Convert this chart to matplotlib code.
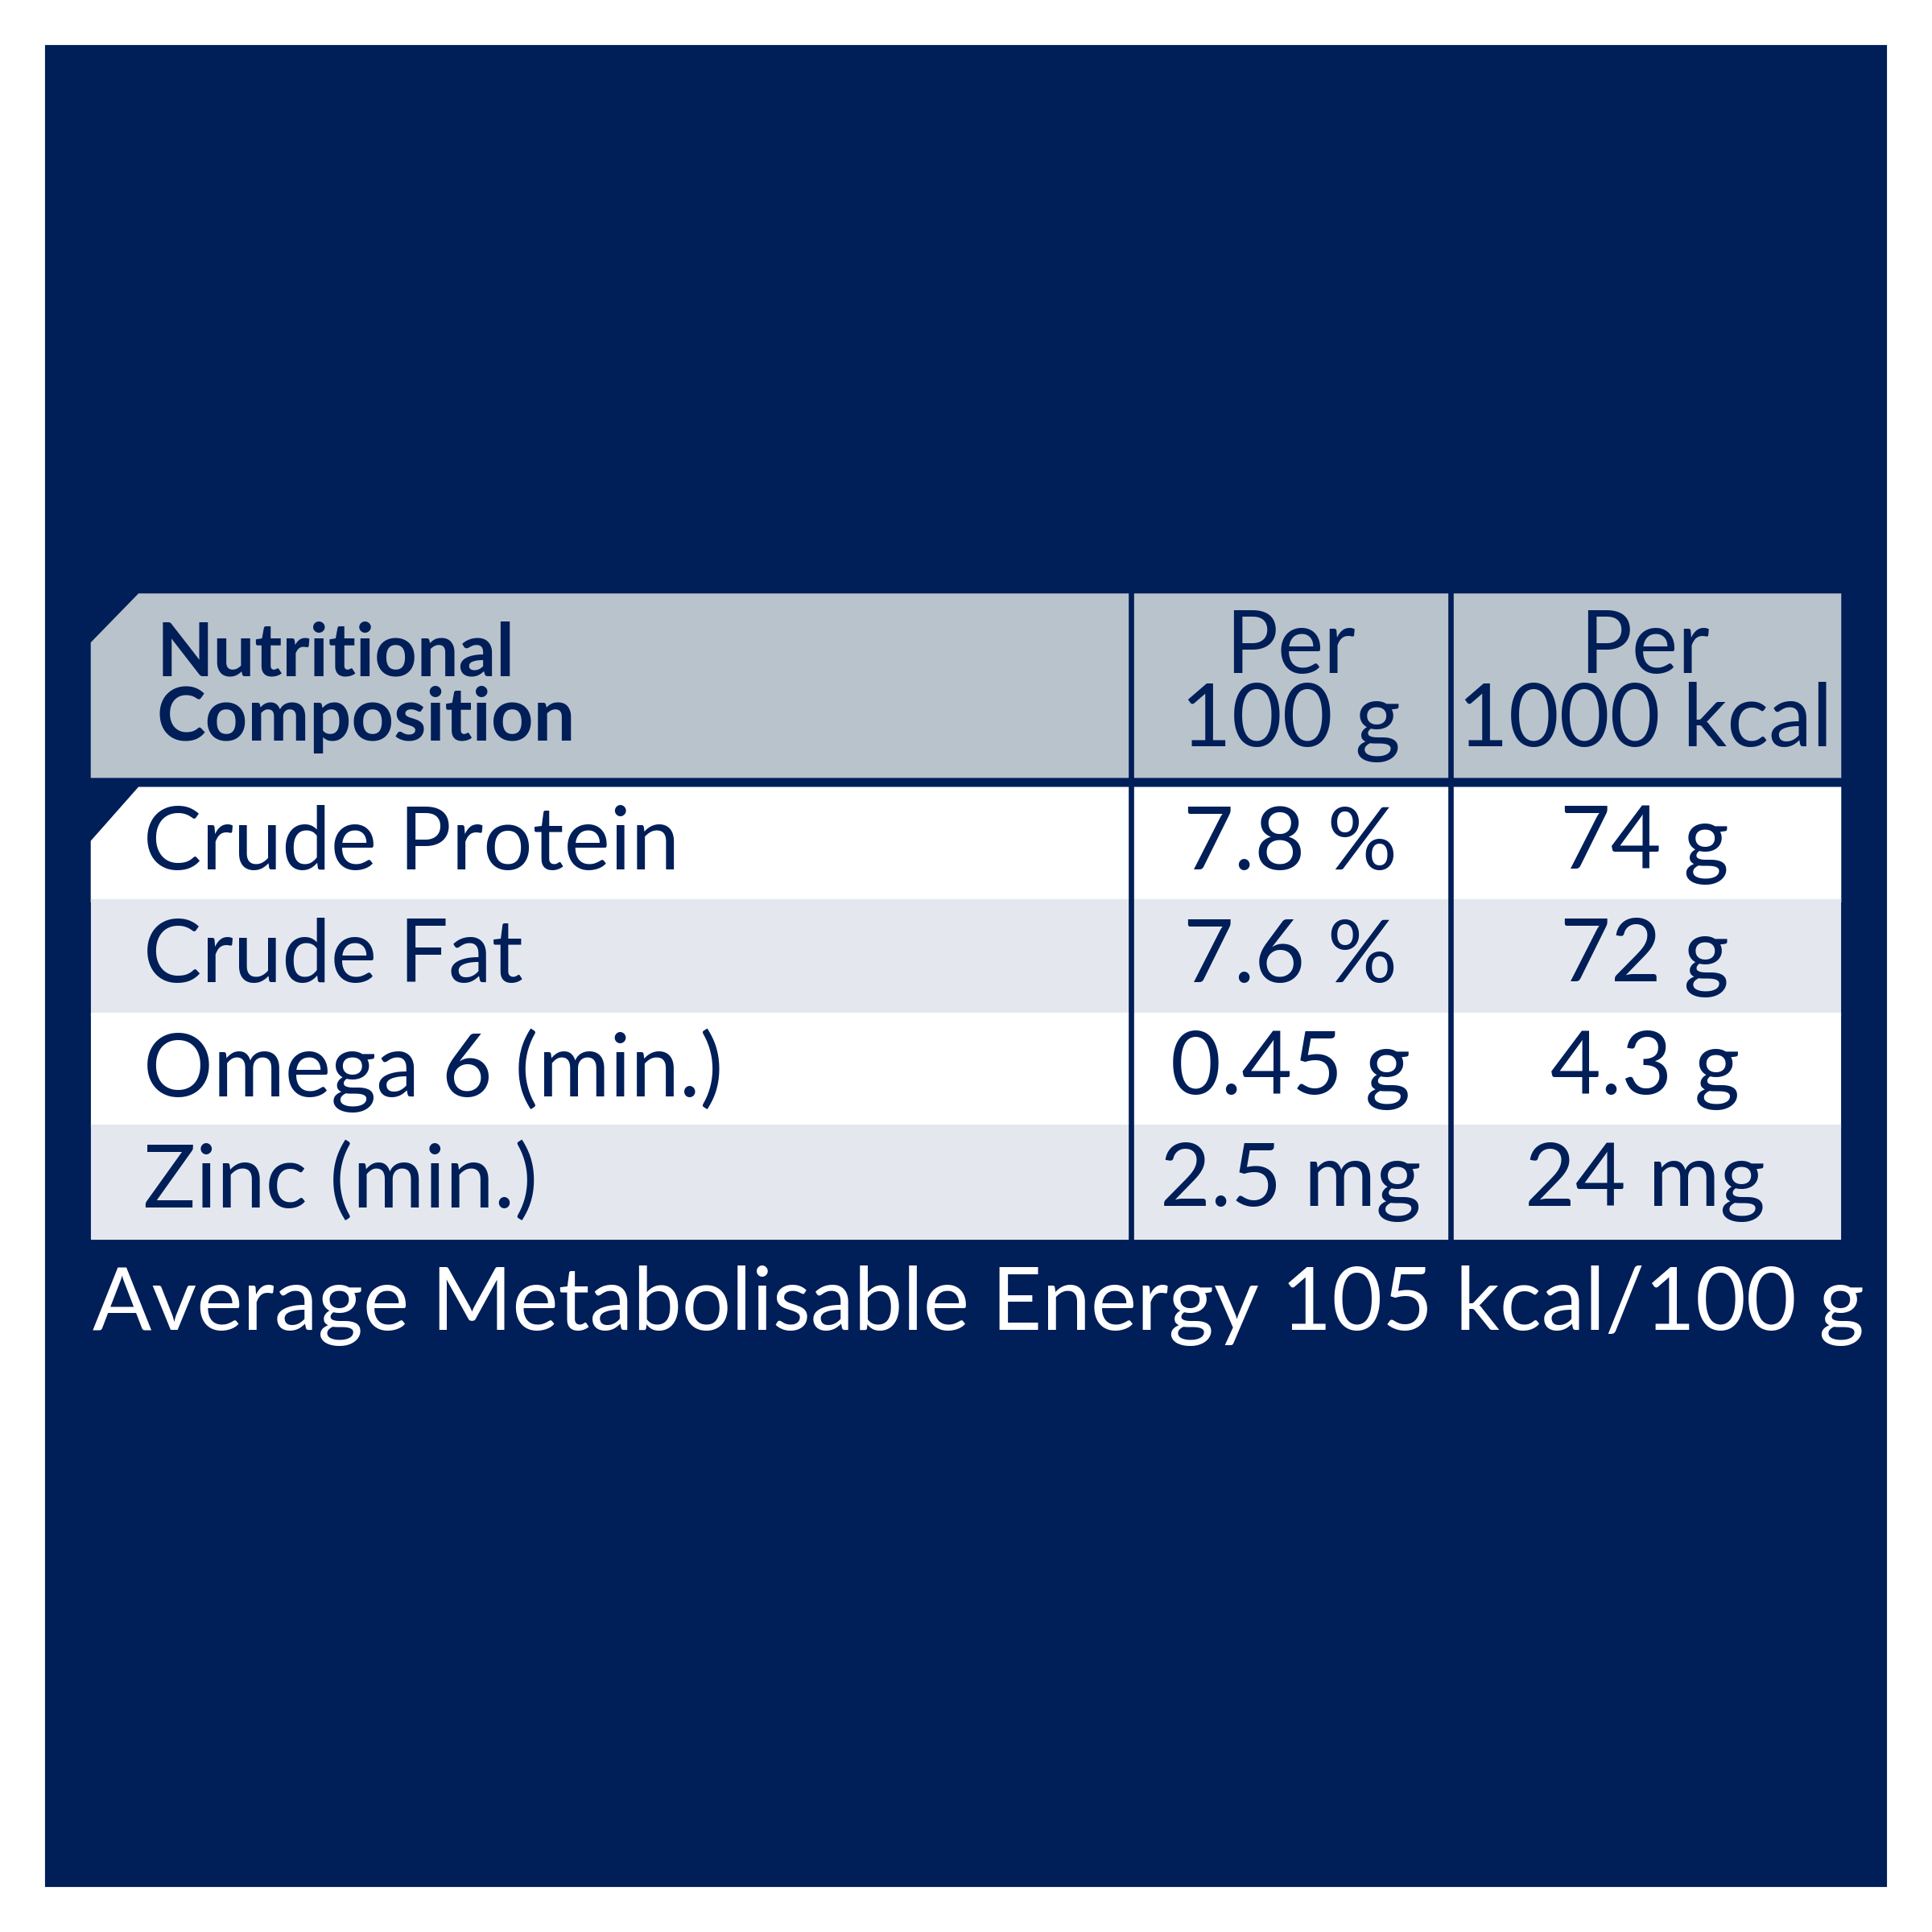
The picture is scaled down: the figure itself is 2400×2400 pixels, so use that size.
import matplotlib
matplotlib.use("Agg")
import matplotlib.pyplot as plt
from matplotlib.patches import Polygon, Rectangle

header = ["Nutritional\nComposition", "Per\n100 g", "Per\n1000 kcal"]
nutrients = ["Crude Protein", "Crude Fat", "Omega 6 (min.)", "Zinc (min.)"]
per_100g = ["7.8 %", "7.6 %", "0.45 g", "2.5 mg"]
per_1000kcal = ["74 g", "72 g", "4.3 g", "24 mg"]
footer = "Average Metabolisable Energy 105 kcal/100 g"

NAVY = "#001E58"
GRAY = "#B9C3CC"
ALT = "#E4E8EE"
plt.rcParams['font.family'] = ['Lato', 'DejaVu Sans']

fig = plt.figure(figsize=(8, 8), dpi=300)
ax = fig.add_axes([0, 0, 1, 1])
ax.set_xlim(0, 1568); ax.set_ylim(1568, 0); ax.axis('off')
ax.add_patch(Rectangle((38, 38), 1492, 1492, color=NAVY))

L, R = 75, 1493
c1, c2 = 918, 1177
# header
ax.add_patch(Polygon([(L, 522), (113, 483), (R, 483), (R, 630), (L, 630)], color=GRAY))
rows_y = [640, 731, 823, 914, 1005]
for i in range(4):
    y0, y1 = rows_y[i], rows_y[i+1]
    col = "white" if i % 2 == 0 else ALT
    if i == 0:
        ax.add_patch(Polygon([(L, 683), (113, y0), (R, y0), (R, y1), (L, y1)], color=col))
    else:
        ax.add_patch(Rectangle((L, y0), R-L, y1-y0, color=col))
for x in (c1, c2):
    ax.plot([x, x], [483, 1005], color=NAVY, lw=1.6)

ax.text(127, 558, header[0], color=NAVY, fontsize=22, fontweight='bold', va='center', ha='left', linespacing=0.95)
ax.text((c1+c2)/2, 556, header[1], color=NAVY, fontsize=26, va='center', ha='center', linespacing=0.9)
ax.text((c2+R)/2, 556, header[2], color=NAVY, fontsize=26, va='center', ha='center', linespacing=0.9)

for i in range(4):
    yc = (rows_y[i] + rows_y[i+1]) / 2
    ax.text(116, yc, nutrients[i], color=NAVY, fontsize=26, va='center', ha='left')
    ax.text((c1+c2)/2, yc, per_100g[i], color=NAVY, fontsize=26, va='center', ha='center')
    ax.text((c2+R)/2, yc, per_1000kcal[i], color=NAVY, fontsize=26, va='center', ha='center')

ax.text(L, 1060, footer, color="white", fontsize=26, va='center', ha='left')
fig.savefig("out.png", dpi=300, facecolor="white")
